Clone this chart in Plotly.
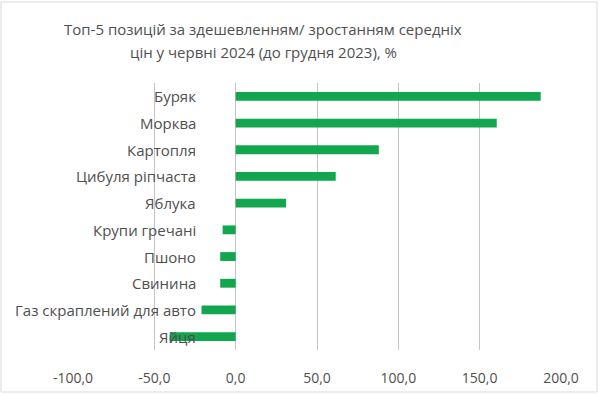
import plotly.graph_objects as go

categories = ["Буряк", "Морква", "Картопля", "Цибуля ріпчаста", "Яблука",
              "Крупи гречані", "Пшоно", "Свинина", "Газ скраплений для авто", "Яйця"]
values = [187.5, 160.5, 88.0, 61.5, 31.0, -8.0, -9.5, -9.5, -21.0, -40.5]
tick_vals = [-100, -50, 0, 50, 100, 150, 200]
tick_text = ["-100,0", "-50,0", "0,0", "50,0", "100,0", "150,0", "200,0"]
title_lines = ["Топ-5 позицій за здешевленням/ зростанням середніх",
               "цін у червні 2024 (до грудня 2023), %"]

FONT = "Open Sans"
GRAY = "#4f4f4f"

fig = go.Figure()
fig.add_trace(go.Bar(
    x=values, y=categories, orientation="h",
    marker=dict(color="#12a64f", line=dict(width=0)),
    width=0.33,
))

ML, MR, MT, MB = 72, 38, 83, 45
W, H = 600, 395
pw = W - ML - MR
ph = H - MT - MB

annotations = []
for c in categories:
    annotations.append(dict(
        x=0, y=c, xref="x", yref="y", text=c, showarrow=False,
        xanchor="right", yanchor="middle", xshift=-38,
        font=dict(family=FONT, size=15, color=GRAY),
    ))
for line, ypix in zip(title_lines, [29, 52]):
    annotations.append(dict(
        x=(263 - ML) / pw, y=1 + (MT - ypix) / ph, xref="paper", yref="paper",
        text=line, showarrow=False, xanchor="center", yanchor="middle",
        font=dict(family=FONT, size=15, color=GRAY),
    ))

fig.update_layout(
    width=W, height=H,
    margin=dict(l=ML, r=MR, t=MT, b=MB, autoexpand=False),
    paper_bgcolor="white", plot_bgcolor="white",
    showlegend=False,
    annotations=annotations,
    xaxis=dict(
        range=[-100.6, 200.6], tickvals=tick_vals, ticktext=tick_text,
        showgrid=True, gridcolor="#c4c4c4", gridwidth=1,
        zeroline=False, showline=False, ticks="",
        ticklabelstandoff=18, automargin=False,
        tickfont=dict(family=FONT, size=14, color=GRAY),
    ),
    yaxis=dict(
        categoryorder="array", categoryarray=categories[::-1],
        showticklabels=False, showgrid=False, zeroline=False, showline=False,
        range=[-0.5, 9.5], automargin=False,
    ),
    shapes=[dict(
        type="rect", xref="paper", yref="paper",
        x0=(1 - ML) / pw, x1=(W - 3 - ML) / pw,
        y0=-(H - 3 - MT - ph) / ph, y1=1 + (MT - 2) / ph,
        line=dict(color="#d9d9d9", width=1), fillcolor="rgba(0,0,0,0)",
    )],
)

fig.write_html("out.html", config={"displayModeBar": False},
               post_script="document.body.style.margin='0';")
